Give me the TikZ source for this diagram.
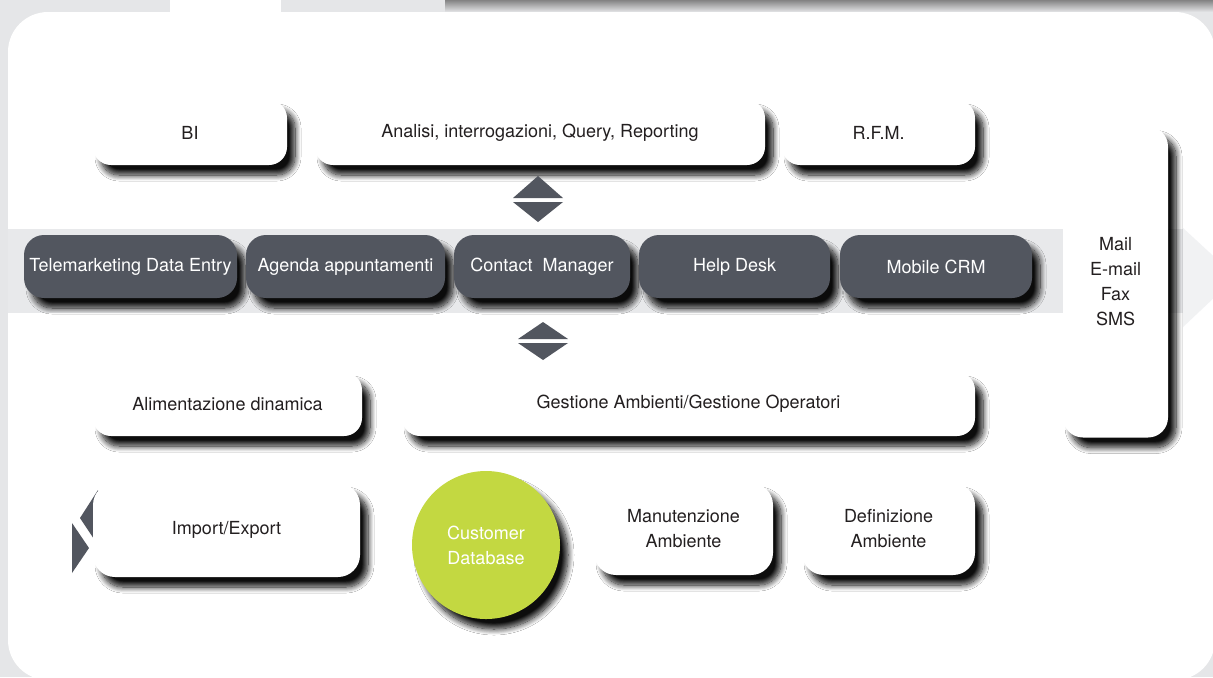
\documentclass[tikz,border=0pt]{standalone}
\usepackage{fontspec}
\setmainfont{TeX Gyre Heros}
\usepackage{tikz}
\usetikzlibrary{shadows.blur}
\definecolor{paper}{HTML}{E5E6E8}
\definecolor{band}{HTML}{E8E9EB}
\definecolor{slate}{HTML}{52565F}
\definecolor{lime}{HTML}{C3D841}
\definecolor{ink}{HTML}{231F20}

\begin{document}
\begin{tikzpicture}[x=0.5pt,y=-0.5pt,font=\fontsize{9}{12.5}\selectfont,
  softshadow/.style={blur shadow={shadow xshift=4pt,shadow yshift=-5pt,
    shadow blur radius=3pt,shadow blur steps=12,shadow opacity=95}},
  card/.style={rectangle,rounded corners=9pt,fill=white,text=ink,align=center,
    inner sep=0pt,softshadow},
  module/.style={rectangle,rounded corners=10pt,fill=slate,text=white,
    inner sep=0pt,minimum height=31.5pt,softshadow},
  swap/.style={fill=slate}]
\clip (0,0) rectangle (1213,677);
\fill[paper] (0,0) rectangle (1213,677);
% bits of the sheets above
\fill[white] (170,-5) rectangle (281,12);
\shade[top color=black!55,bottom color=paper] (445,-2) rectangle (1213,12);
% main sheet
\fill[white,rounded corners=20pt] (8,12) rectangle (1215,680);
% grey band with its arrow head
\fill[band] (8,229) rectangle (1183,313);
\fill[band!60!white] (1183,228) -- (1236,277) -- (1183,327) -- cycle;

% top row
\node[card,minimum width=97pt,minimum height=32.5pt] (bi) at (190,132.5) {BI};
\node[card,minimum width=225pt,minimum height=32.5pt] (analisi) at (540,132.5) {Analisi, interrogazioni, Query, Reporting};
\node[card,minimum width=96.5pt,minimum height=32.5pt] (rfm) at (878.5,132.5) {R.F.M.};

% modules on the band
\foreach \name/\x/\w/\txt in {tele/130.5/106.5/Telemarketing Data Entry,
    agenda/345.5/99.5/Agenda appuntamenti, contact/542/88/{Contact\ \ Manager},
    helpdesk/734.5/95.5/Help Desk, mobile/936/96/Mobile CRM}
  \node[module,minimum width=\w pt] (\name) at (\x,266.5) {\txt};

% up/down markers
\fill[swap] (513,198) -- (538,176) -- (563,198) -- cycle;
\fill[swap] (513,202) -- (538,222) -- (563,202) -- cycle;
\fill[swap] (518,339) -- (543,322) -- (568,339) -- cycle;
\fill[swap] (518,343) -- (543,360) -- (568,343) -- cycle;

% channels
\node[card,rounded corners=10pt,minimum width=52.5pt,minimum height=155.5pt] (mail) at (1115.5,282) {Mail\\E-mail\\Fax\\SMS};

% middle row
\node[card,minimum width=134.5pt,minimum height=32pt] (alim) at (227.5,404) {Alimentazione dinamica};
\node[card,minimum width=286.5pt,minimum height=32pt] (gestione) at (688.5,404) {Gestione Ambienti/Gestione Operatori};

% bottom row
\fill[swap] (98,490) -- (80,518) -- (98,545) -- cycle;
\fill[swap] (72,523) -- (89,548) -- (72,573) -- cycle;
\node[card,rounded corners=11pt,minimum width=133.5pt,minimum height=47pt] (impexp) at (226.5,530) {Import/Export};
\node[circle,fill=lime,text=white,align=center,minimum size=74pt,inner sep=0pt,softshadow] (custdb) at (486,545) {Customer\\Database};
\node[card,rounded corners=11pt,minimum width=89.5pt,minimum height=46pt] (manut) at (683.5,529) {Manutenzione\\Ambiente};
\node[card,rounded corners=11pt,minimum width=86.5pt,minimum height=46pt] (defin) at (888.5,529) {Definizione\\Ambiente};
\end{tikzpicture}
\end{document}
